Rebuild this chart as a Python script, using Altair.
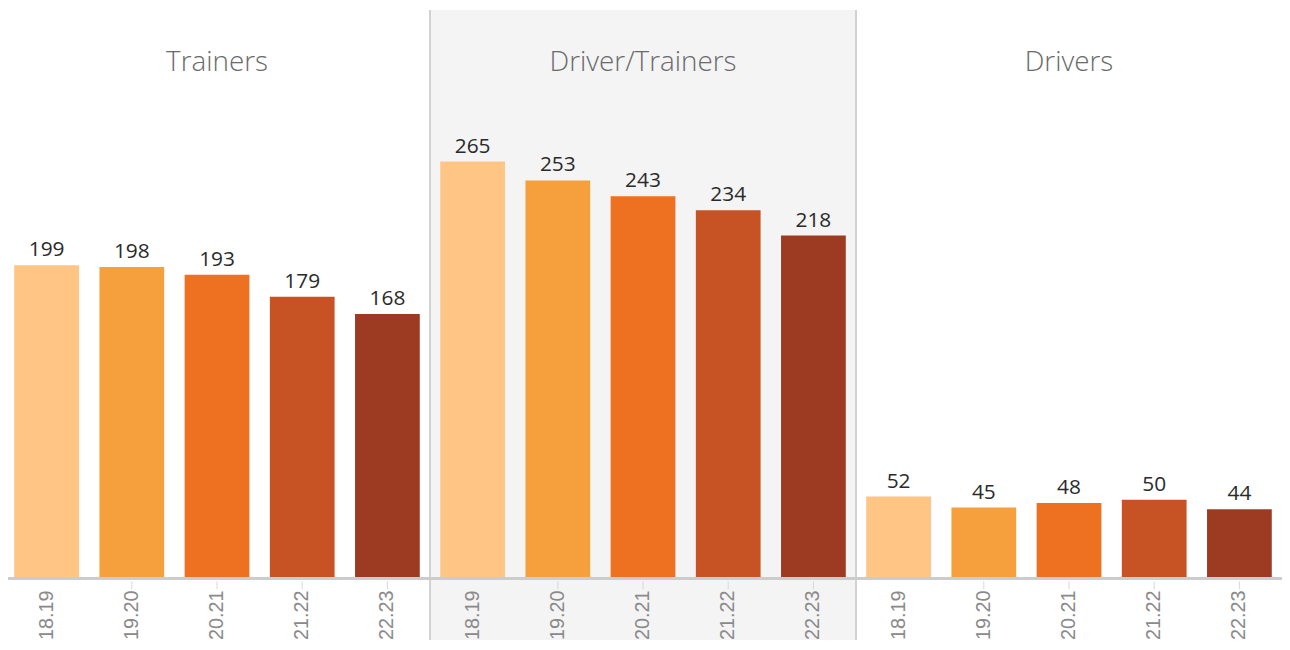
import altair as alt
import pandas as pd

groups = ["Trainers", "Driver/Trainers", "Drivers"]
years = ["18.19", "19.20", "20.21", "21.22", "22.23"]
trainers = [199, 198, 193, 179, 168]
driver_trainers = [265, 253, 243, 234, 218]
drivers = [52, 45, 48, 50, 44]
colors = ["#FEC584", "#F6A03D", "#EE7122", "#C75223", "#9D3B22"]
shaded = [False, True, False]

W, H, TOP, BOTTOM = 1286, 467, 105, 62

rows = []
for g, vals in zip(groups, [trainers, driver_trainers, drivers]):
    for yr, v in zip(years, vals):
        rows.append({"group": g, "year": yr, "value": v})
df = pd.DataFrame(rows)
gdf = pd.DataFrame({"group": groups, "shaded": shaded})

gscale = alt.Scale(domain=groups, paddingInner=0, paddingOuter=0)
xg = alt.X("group:N", sort=groups, scale=gscale, axis=None)
xo = alt.XOffset("year:N", sort=years,
                 scale=alt.Scale(domain=years, paddingInner=0.24, paddingOuter=0.12))
yv = alt.Y("value:Q", scale=alt.Scale(domain=[0, 295], nice=False, zero=True), axis=None)

bg = alt.Chart(gdf).transform_filter("datum.shaded").mark_rect(color="#f4f4f4").encode(
    x=xg, y=alt.value(-TOP), y2=alt.value(H + BOTTOM)
)

seps = alt.Chart(gdf).mark_rule(color="#d2d2d2", strokeWidth=2).encode(
    x=alt.X("group:N", sort=groups, scale=gscale, axis=None, bandPosition=0),
    y=alt.value(-TOP), y2=alt.value(H + BOTTOM)
)

headers = alt.Chart(gdf).mark_text(
    fontSize=28, color="#6a6a6a", font="Open Sans", fontWeight=300, baseline="middle"
).encode(x=xg, y=alt.value(-52), text="group:N")

bars = alt.Chart(df).mark_bar().encode(
    x=xg, xOffset=xo, y=yv,
    color=alt.Color("year:N", scale=alt.Scale(domain=years, range=colors), legend=None)
)

labels = alt.Chart(df).mark_text(
    dy=-9, baseline="alphabetic", fontSize=21, color="#2a2a2a", font="Open Sans"
).encode(x=xg, xOffset=xo, y=yv, text="value:Q")

ylabels = alt.Chart(df).mark_text(
    angle=270, align="right", baseline="middle", fontSize=20, color="#8a8a8a",
    font="Liberation Sans"
).encode(x=xg, xOffset=xo, y=alt.value(H + 12), text="year:N")

base = alt.Chart(df).mark_rule(color="#cccccc", strokeWidth=2).encode(y=alt.datum(0))

ticks = alt.Chart(df).transform_filter(
    alt.datum.year != years[0]
).mark_rule(color="#d8d8d8", xOffset=-42.9).encode(
    x=xg, xOffset=xo, y=alt.value(H + 3), y2=alt.value(H + 11)
)

chart = alt.layer(bg, seps, headers, bars, labels, ylabels, ticks, base).properties(
    width=W, height=H,
    autosize=alt.AutoSizeParams(type="none"),
    padding={"left": -4, "top": TOP, "right": 0, "bottom": BOTTOM},
).configure_view(stroke=None)

chart.save("out.html", embed_options={"renderer": "svg", "actions": False})
